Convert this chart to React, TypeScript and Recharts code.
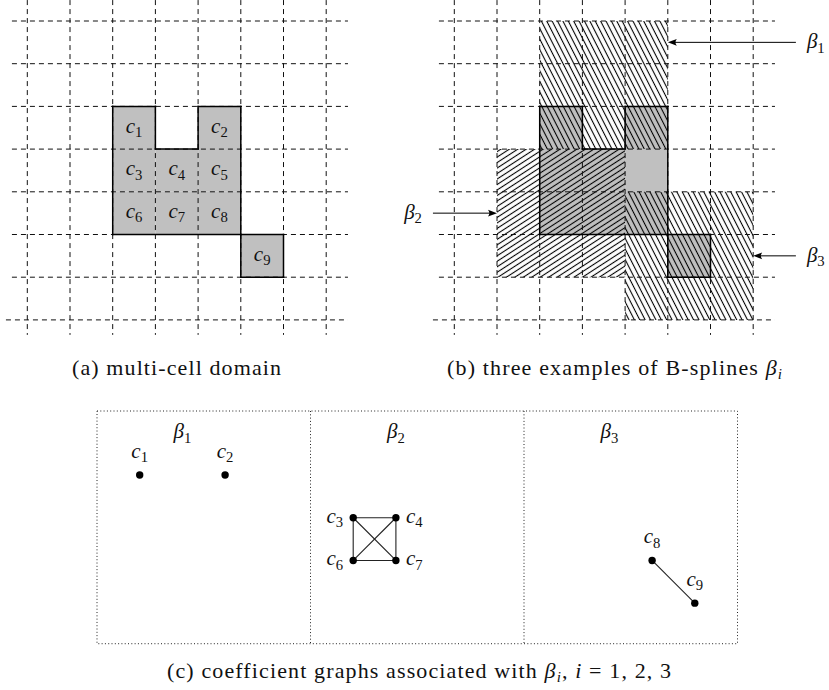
import { ComposedChart, XAxis, YAxis, ReferenceArea, ReferenceLine, Scatter } from 'recharts';

const SERIF = '"Liberation Serif", "Times New Roman", serif';
const UNIT = 42.7; // px per grid cell
const W = 829;
const H = 690;

// ---- (a) / (b): grid and cells (grid units, row 0 at top) ----
const gridLines = [0, 1, 2, 3, 4, 5, 6, 7];
const panelOffsets = [0, 10]; // panel (b) sits 10 cells to the right

const cellIds = [1, 2, 3, 4, 5, 6, 7, 8, 9];
const cellCol = [2, 4, 2, 3, 4, 2, 3, 4, 5];
const cellRow = [2, 2, 3, 3, 3, 4, 4, 4, 5];

const outlineCol = [2, 3, 3, 4, 4, 5, 5, 6, 6, 5, 5, 2, 2];
const outlineRow = [2, 2, 3, 3, 2, 2, 5, 5, 6, 6, 5, 5, 2];

// B-spline supports (panel b, without offset)
const splineIds = [1, 2, 3];
const splineCol0 = [2, 1, 4];
const splineCol1 = [5, 4, 7];
const splineRow0 = [0, 3, 4];
const splineRow1 = [3, 6, 7];
const splineHatch = ['hatchSteep', 'hatchFlat', 'hatchSteep'];
const arrowStart = [18, 9.5, 18];
const arrowEnd = [15, 11, 17];
const arrowRow = [0.5, 4.5, 5.5];

// ---- (c): coefficient graphs ----
const nodeIds = [1, 2, 3, 4, 6, 7, 8, 9];
const nodeX = [1, 3, 6, 7, 6, 7, 13, 14];
const nodeY = [1.5, 1.5, 2.5, 2.5, 3.5, 3.5, 3.5, 4.5];
const edgeFrom = [3, 4, 7, 6, 3, 4, 8];
const edgeTo = [4, 7, 6, 3, 7, 6, 9];
const boxSplits = [0, 5, 10, 15];
const boxHeight = 5.45;
const titleX = [2, 7, 12];
const titleY = 0.5;

const labelSide: Record<number, 'top' | 'left' | 'right'> = {
  1: 'top', 2: 'top', 3: 'left', 4: 'right', 6: 'left', 7: 'right', 8: 'top', 9: 'top',
};

const TOP_H = 340;
const topX0 = -27.3 / UNIT;
const topY0 = -21 / UNIT;

const BOT_TOP = 370;
const BOT_H = 300;
const botX0 = -97 / UNIT;
const botY0 = -(411 - BOT_TOP) / UNIT;

const Sym = ({ x, y, base, sub, size = 21, anchor = 'middle' }: any) => (
  <text x={x} y={y} textAnchor={anchor} fontFamily={SERIF} fontSize={size} fill="#111">
    <tspan fontStyle="italic">{base}</tspan>
    <tspan fontSize={size * 0.7} dy={size * 0.2}>{sub}</tspan>
  </text>
);

const CellLabel = (p: any) => <Sym x={p.cx} y={p.cy + 5} base="c" sub={p.payload.id} />;

const NodeShape = (p: any) => {
  const side = labelSide[p.payload.id];
  const lx = side === 'left' ? p.cx - 10 : side === 'right' ? p.cx + 10 : p.cx;
  const ly = side === 'top' ? p.cy - 17 : p.cy + 5;
  const anchor = side === 'left' ? 'end' : side === 'right' ? 'start' : 'middle';
  return (
    <g>
      <circle cx={p.cx} cy={p.cy} r={3.7} fill="#000" />
      <Sym x={lx} y={ly} base="c" sub={p.payload.id} anchor={anchor} />
    </g>
  );
};

const TitleShape = (p: any) => <Sym x={p.cx} y={p.cy + 6} base="β" sub={p.payload.id} />;

const arrowShape = (id: number) => (p: any) => {
  const { x1, y1, x2, y2 } = p;
  const dir = Math.sign(x2 - x1);
  const len = 9;
  const half = 3.4;
  return (
    <g>
      <line x1={x1} y1={y1} x2={x2 - dir * len * 0.8} y2={y2} stroke="#000" strokeWidth={1} />
      <path
        d={`M${x2},${y2} L${x2 - dir * len},${y2 - half} Q${x2 - dir * len * 0.7},${y2} ${x2 - dir * len},${y2 + half} Z`}
        fill="#000"
      />
      <Sym x={x1 + (dir < 0 ? 11 : -11)} y={y1 + 6} base="β" sub={id} anchor={dir < 0 ? 'start' : 'end'} />
    </g>
  );
};

const cellData = cellIds.map((id, i) => ({ id, x: cellCol[i] + 0.5, y: cellRow[i] + 0.5 }));
const nodeData = nodeIds.map((id, i) => ({ id, x: nodeX[i], y: nodeY[i] }));
const titleData = splineIds.map((id, i) => ({ id, x: titleX[i], y: titleY }));
const nodeAt = (id: number) => nodeData.find((n) => n.id === id)!;

const dash = { stroke: '#111', strokeWidth: 1, strokeDasharray: '5 4' };
const dotted = { stroke: '#222', strokeWidth: 1, strokeDasharray: '1 2.3' };

const capProps = { fontFamily: SERIF, fontSize: 22, fill: '#111', textAnchor: 'middle' as const, lengthAdjust: 'spacing' };

const App = () => (
  <div style={{ position: 'relative', width: W, height: H, background: '#fff', overflow: 'hidden' }}>
    <style>{'body{margin:0}'}</style>
    <svg width={0} height={0} style={{ position: 'absolute' }}>
      <defs>
        <pattern id="hatchSteep" patternUnits="userSpaceOnUse" width={4.8} height={10} patternTransform="rotate(-27)">
          <line x1={2.4} y1={0} x2={2.4} y2={10} stroke="#000" strokeWidth={1.1} />
        </pattern>
        <pattern id="hatchFlat" patternUnits="userSpaceOnUse" width={10} height={4.6} patternTransform="rotate(-33)">
          <line x1={0} y1={2.3} x2={10} y2={2.3} stroke="#000" strokeWidth={1.1} />
        </pattern>
      </defs>
    </svg>

    <div style={{ position: 'absolute', left: 0, top: 0 }}>
      <ComposedChart width={W} height={TOP_H} margin={{ top: 0, right: 0, bottom: 0, left: 0 }}>
        <XAxis type="number" dataKey="x" hide domain={[topX0, topX0 + W / UNIT]} allowDataOverflow />
        <YAxis type="number" dataKey="y" hide reversed domain={[topY0, topY0 + TOP_H / UNIT]} allowDataOverflow />

        {panelOffsets.map((o) =>
          cellIds.map((id, i) => (
            <ReferenceArea
              key={`cell-${o}-${id}`}
              x1={cellCol[i] + o}
              x2={cellCol[i] + o + 1}
              y1={cellRow[i]}
              y2={cellRow[i] + 1}
              fill="#c0c0c0"
              fillOpacity={1}
              stroke="none"
            />
          ))
        )}

        {splineIds.map((id, i) => (
          <ReferenceArea
            key={`spline-${id}`}
            x1={splineCol0[i] + panelOffsets[1]}
            x2={splineCol1[i] + panelOffsets[1]}
            y1={splineRow0[i]}
            y2={splineRow1[i]}
            fill={`url(#${splineHatch[i]})`}
            fillOpacity={1}
            stroke="none"
          />
        ))}

        {panelOffsets.map((o) =>
          gridLines.map((g) => (
            <ReferenceLine
              key={`v-${o}-${g}`}
              segment={[{ x: g + o, y: -0.49 }, { x: g + o, y: 7.35 }]}
              {...dash}
            />
          ))
        )}
        {panelOffsets.map((o) =>
          gridLines.map((g) => (
            <ReferenceLine
              key={`h-${o}-${g}`}
              segment={[{ x: o + (g === 7 ? -0.5 : -0.36), y: g }, { x: o + 7.51, y: g }]}
              {...dash}
            />
          ))
        )}

        {panelOffsets.map((o) =>
          outlineCol.slice(1).map((c, i) => (
            <ReferenceLine
              key={`o-${o}-${i}`}
              segment={[
                { x: outlineCol[i] + o, y: outlineRow[i] },
                { x: c + o, y: outlineRow[i + 1] },
              ]}
              stroke="#000"
              strokeWidth={1.5}
              strokeLinecap="square"
            />
          ))
        )}

        {splineIds.map((id, i) => (
          <ReferenceLine
            key={`arrow-${id}`}
            segment={[{ x: arrowStart[i], y: arrowRow[i] }, { x: arrowEnd[i], y: arrowRow[i] }]}
            shape={arrowShape(id)}
          />
        ))}

        <Scatter data={cellData} shape={CellLabel} isAnimationActive={false} />
      </ComposedChart>
    </div>

    <div style={{ position: 'absolute', left: 0, top: BOT_TOP }}>
      <ComposedChart width={W} height={BOT_H} margin={{ top: 0, right: 0, bottom: 0, left: 0 }}>
        <XAxis type="number" dataKey="x" hide domain={[botX0, botX0 + W / UNIT]} allowDataOverflow />
        <YAxis type="number" dataKey="y" hide reversed domain={[botY0, botY0 + BOT_H / UNIT]} allowDataOverflow />

        <ReferenceArea x1={0} x2={15} y1={0} y2={boxHeight} fill="none" {...dotted} />
        {boxSplits.slice(1, -1).map((s) => (
          <ReferenceLine key={`split-${s}`} segment={[{ x: s, y: 0 }, { x: s, y: boxHeight }]} {...dotted} />
        ))}

        {edgeFrom.map((f, i) => (
          <ReferenceLine
            key={`e-${i}`}
            segment={[
              { x: nodeAt(f).x, y: nodeAt(f).y },
              { x: nodeAt(edgeTo[i]).x, y: nodeAt(edgeTo[i]).y },
            ]}
            stroke="#222"
            strokeWidth={1.1}
          />
        ))}

        <Scatter data={titleData} shape={TitleShape} isAnimationActive={false} />
        <Scatter data={nodeData} shape={NodeShape} isAnimationActive={false} />
      </ComposedChart>
    </div>

    {/* captions */}
    <svg width={W} height={H} style={{ position: 'absolute', left: 0, top: 0, pointerEvents: 'none' }}>
      <text x={176.5} y={375} textLength={209} {...capProps}>
        (a) multi-cell domain
      </text>
      <text x={614.5} y={375} textLength={335} {...capProps}>
        (b) three examples of B-splines <tspan fontStyle="italic">β</tspan>
        <tspan fontStyle="italic" fontSize={15} dy={4}>i</tspan>
      </text>
      <text x={419} y={678} textLength={504} {...capProps}>
        (c) coefficient graphs associated with <tspan fontStyle="italic">β</tspan>
        <tspan fontStyle="italic" fontSize={15} dy={4}>i</tspan>
        <tspan dy={-4}>, </tspan>
        <tspan fontStyle="italic">i</tspan> = 1, 2, 3
      </text>
    </svg>
  </div>
);

export default App;
